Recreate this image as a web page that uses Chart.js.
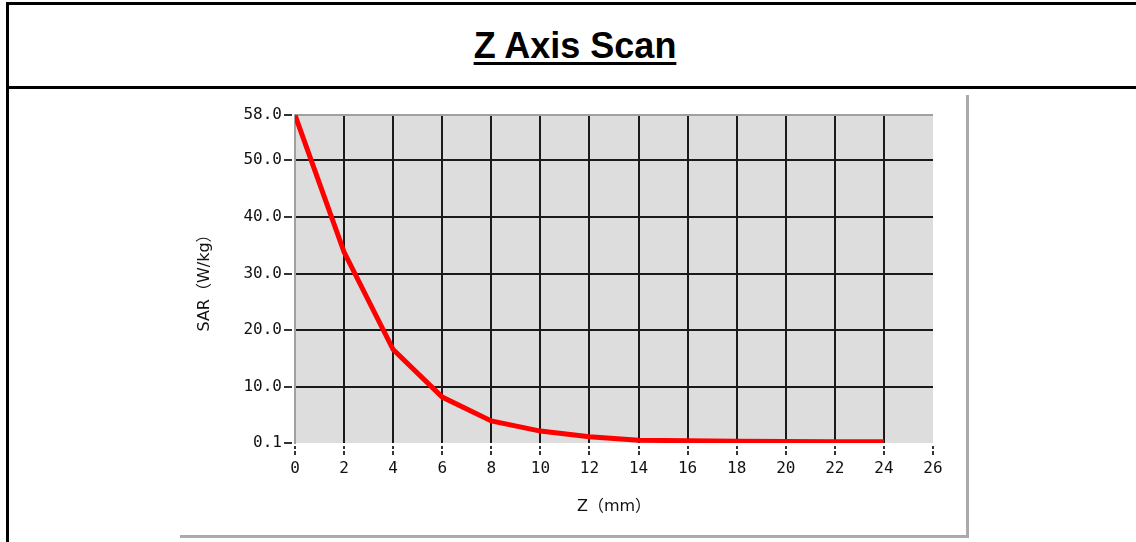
<!DOCTYPE html>
<html lang="en">
<head>
  <meta charset="UTF-8">
  <title>Z Axis Scan</title>
  <script src="https://cdn.jsdelivr.net/npm/chart.js"></script>
  <style>
    html, body { margin: 0; padding: 0; background: #fff; width: 1136px; height: 542px; overflow: hidden; }
    #box { position: absolute; left: 6px; top: 2px; width: 1150px; height: 600px; border-left: 3px solid #000; border-top: 3px solid #000; }
    #sep { position: absolute; left: 6px; top: 86px; width: 1150px; border-top: 3px solid #000; }
    #title { position: absolute; left: 0; top: 28px; width: 1150px; text-align: center;
      font: bold 36px "Liberation Sans", Arial, sans-serif; line-height: 36px; color: #000;
      text-decoration: underline; text-decoration-thickness: 3px; text-underline-offset: 4px; }
    #frame { position: absolute; left: 180px; top: 95px; width: 786px; height: 440px;
      border-right: 3px solid #aaa; border-bottom: 3px solid #aaa; }
  </style>
</head>
<body>
  <div id="box"></div>
  <div id="sep"></div>
  <div id="title">Z Axis Scan</div>
  <div id="frame"><canvas id="zScan"></canvas></div>
  <script>
    // values
    const zValues = [0, 2, 4, 6, 8, 10, 12, 14, 16, 18, 20, 22, 24];
    const sarValues = [58.0, 33.8, 16.6, 8.2, 4.0, 2.2, 1.2, 0.6, 0.5, 0.4, 0.35, 0.3, 0.3];
    const xTicks = [0, 2, 4, 6, 8, 10, 12, 14, 16, 18, 20, 22, 24, 26];
    const yTicks = [0.1, 10, 20, 30, 40, 50, 58];

    const tickFont = { family: '"DejaVu Sans Mono", monospace', size: 16 };
    const titleFont = { family: '"DejaVu Sans", "Noto Sans CJK SC", sans-serif', size: 16 };

    const plotBg = {
      id: 'plotBg',
      beforeDraw(chart) {
        const a = chart.chartArea, c = chart.ctx;
        c.save();
        c.fillStyle = '#dddddd';
        c.fillRect(a.left, a.top, a.right - a.left, a.bottom - a.top);
        c.restore();
      },
      beforeDatasetsDraw(chart) {
        const a = chart.chartArea, c = chart.ctx;
        c.save();
        c.strokeStyle = '#a0a0a0';
        c.lineWidth = 2;
        c.beginPath();
        c.moveTo(a.left, a.top);
        c.lineTo(a.right, a.top);
        c.stroke();
        c.restore();
      }
    };

    const ctx = document.getElementById('zScan').getContext('2d');
    const zChart = new Chart(ctx, {
      type: 'line',
      data: {
        datasets: [{
          label: 'SAR',
          data: zValues.map((z, i) => ({ x: z, y: sarValues[i] })),
          borderColor: '#ff0000',
          borderWidth: 5,
          pointRadius: 0,
          tension: 0,
          fill: false
        }]
      },
      options: {
        responsive: true,
        maintainAspectRatio: false,
        animation: false,
        layout: { padding: { top: 20, right: 33, left: 0, bottom: 0 } },
        plugins: { legend: { display: false }, tooltip: { enabled: false } },
        scales: {
          x: {
            type: 'linear',
            min: 0,
            max: 26,
            afterBuildTicks(scale) { scale.ticks = xTicks.map(v => ({ value: v })); },
            afterFit(scale) { scale.height = 92; },
            ticks: { font: tickFont, color: '#111', padding: 4, maxRotation: 0, autoSkip: false },
            grid: {
              color: c => (c.tick && (c.tick.value === 0 || c.tick.value === 26)) ? 'rgba(0,0,0,0)' : '#1a1a1a',
              lineWidth: 2,
              tickColor: '#333',
              tickLength: 12,
              tickWidth: 2,
              tickBorderDash: [0, 3, 3, 2, 4, 20]
            },
            border: { display: false },
            title: { display: true, text: 'Z（mm）', font: titleFont, color: '#111', padding: { top: 0, bottom: 19 } }
          },
          y: {
            type: 'linear',
            min: 0.1,
            max: 58,
            afterBuildTicks(scale) { scale.ticks = yTicks.map(v => ({ value: v })); },
            afterFit(scale) { scale.width = 115; },
            ticks: { font: tickFont, color: '#111', padding: 2, autoSkip: false, callback: v => v.toFixed(1) },
            grid: {
              color: c => (c.tick && (c.tick.value === 0.1 || c.tick.value === 58)) ? 'rgba(0,0,0,0)' : '#1a1a1a',
              lineWidth: 2,
              tickColor: '#333',
              tickLength: 11,
              tickWidth: 2,
              tickBorderDash: [8, 3]
            },
            border: { display: true, color: '#a0a0a0', width: 2 },
            title: { display: true, text: 'SAR（W/kg）', font: titleFont, color: '#111', padding: { top: 15, bottom: 0 } }
          }
        }
      },
      plugins: [plotBg]
    });
  </script>
</body>
</html>
